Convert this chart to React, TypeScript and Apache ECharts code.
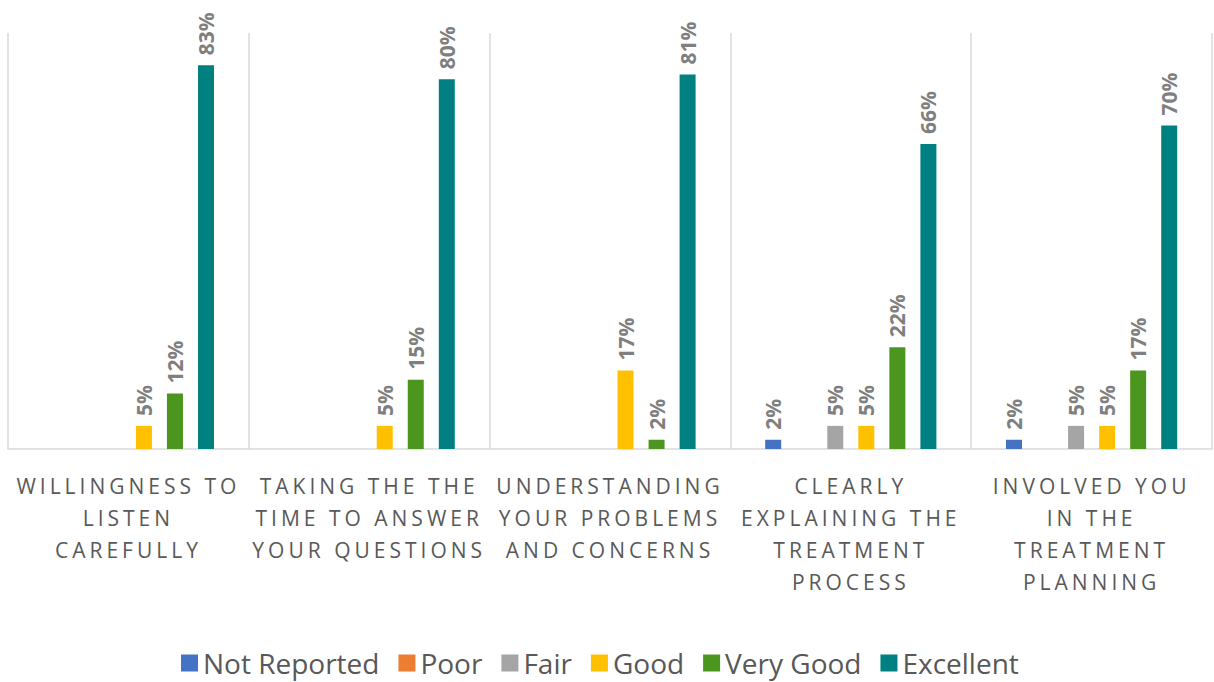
import React, { useEffect, useRef } from "react";
import * as echarts from "echarts";

const categories = [
  "WILLINGNESS TO\nLISTEN\nCAREFULLY",
  "TAKING THE THE\nTIME TO ANSWER\nYOUR QUESTIONS",
  "UNDERSTANDING\nYOUR PROBLEMS\nAND CONCERNS",
  "CLEARLY\nEXPLAINING THE\nTREATMENT\nPROCESS",
  "INVOLVED YOU\nIN THE\nTREATMENT\nPLANNING",
];
const seriesNames = ["Not Reported", "Poor", "Fair", "Good", "Very Good", "Excellent"];
const colors = ["#4472C4", "#ED7D31", "#A5A5A5", "#FFC000", "#4A961F", "#008080"];
const notReported = [0, 0, 0, 2, 2];
const poor = [0, 0, 0, 0, 0];
const fair = [0, 0, 0, 5, 5];
const good = [5, 5, 17, 5, 5];
const veryGood = [12, 15, 2, 22, 17];
const excellent = [83, 80, 81, 66, 70];
const values = [notReported, poor, fair, good, veryGood, excellent];

export default function App() {
  const ref = useRef<HTMLDivElement>(null);
  useEffect(() => {
    const chart = echarts.init(ref.current!, null, { renderer: "svg" });
    chart.setOption({
      animation: false,
      grid: { left: 8, right: 2, top: 33, bottom: 233, containLabel: false },
      legend: {
        bottom: 0,
        left: 176,
        itemWidth: 17,
        itemHeight: 17,
        itemGap: 19,
        icon: "rect",
        textStyle: { color: "#585858", fontSize: 28, fontFamily: "Open Sans, sans-serif" },
        data: seriesNames,
      },
      xAxis: {
        type: "category",
        data: categories,
        axisTick: { show: false },
        axisLine: { lineStyle: { color: "#D9D9D9", width: 1.5 } },
        splitLine: { show: true, lineStyle: { color: "#D9D9D9", width: 1.5 } },
        axisLabel: {
          interval: 0,
          color: "#595959",
          fontSize: 21,
          fontFamily: "Open Sans, sans-serif",
          lineHeight: 32,
          margin: 21,
        },
      },
      yAxis: {
        type: "value",
        min: 0,
        max: 90,
        show: false,
        splitLine: { show: false },
      },
      series: seriesNames.map((name, i) => ({
        name,
        type: "bar",
        barWidth: 16,
        barGap: "94%",
        itemStyle: { color: colors[i] },
        data: values[i].map((v) => (v === 0 ? null : v)),
        label: {
          show: true,
          position: "top",
          rotate: 90,
          align: "left",
          verticalAlign: "middle",
          distance: 10,
          color: "#7F7F7F",
          fontWeight: "bold",
          fontSize: 21,
          fontFamily: "Open Sans, sans-serif",
          formatter: (p: any) => p.value + "%",
        },
      })),
    });
    return () => chart.dispose();
  }, []);
  return (
    <>
      <style>{`#chartbox text[fill="#595959"], #chartbox text[fill="rgb(89,89,89)"] { letter-spacing: 4px; }`}</style>
      <div id="chartbox" ref={ref} style={{ width: 1214, height: 682, position: "absolute", left: 0, top: 0 }} />
    </>
  );
}
